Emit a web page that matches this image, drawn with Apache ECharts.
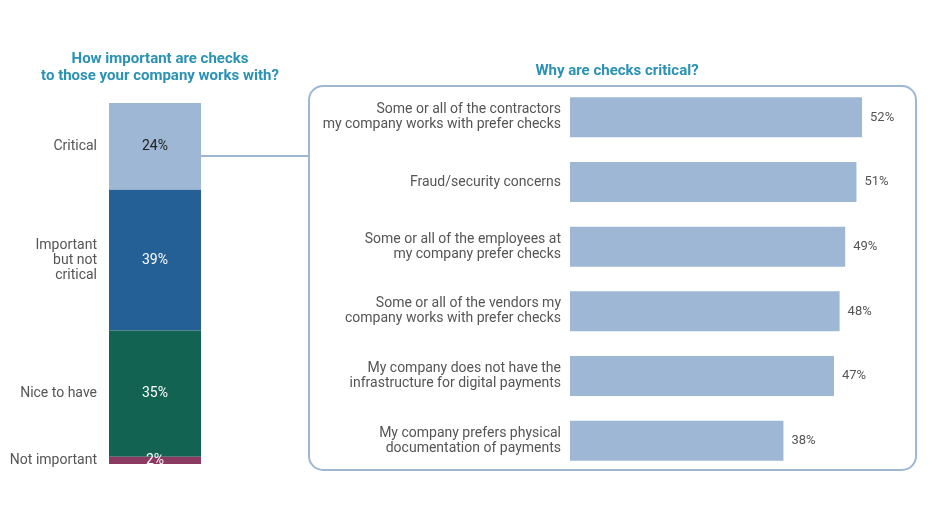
<!DOCTYPE html>
<html><head><meta charset="utf-8">
<script src="https://cdn.jsdelivr.net/npm/echarts@6/dist/echarts.min.js"></script>
<style>html,body{margin:0;padding:0;background:#fff}#c{width:939px;height:507px}</style>
</head><body><div id="c"></div>
<script>
var leftCategories = ['Critical', 'Important\nbut not\ncritical', 'Nice to have', 'Not important'];
var leftValues = [24, 39, 35, 2];
var leftColors = ['#9db7d5', '#246096', '#136352', '#8b3a62'];
var leftLabelColors = ['#222222', '#ffffff', '#ffffff', '#ffffff'];
var rightCategories = [
  'Some or all of the contractors\nmy company works with prefer checks',
  'Fraud/security concerns',
  'Some or all of the employees at\nmy company prefer checks',
  'Some or all of the vendors my\ncompany works with prefer checks',
  'My company does not have the\ninfrastructure for digital payments',
  'My company prefers physical\ndocumentation of payments'
];
var rightValues = [52, 51, 49, 48, 47, 38];

var FONT = "'Roboto', sans-serif";
var series = [];
leftCategories.forEach(function (name, i) {
  series.push({
    type: 'bar', name: name, stack: 'a', xAxisIndex: 0, yAxisIndex: 0,
    barWidth: '100%', data: [leftValues[i]],
    itemStyle: { color: leftColors[i] },
    label: { show: true, position: 'inside', formatter: '{c}%', color: leftLabelColors[i],
      fontSize: 14, fontFamily: FONT },
    silent: true
  });
  series.push({
    type: 'bar', name: name + ' label', stack: 'b', xAxisIndex: 1, yAxisIndex: 0,
    barWidth: '100%', data: [leftValues[i]],
    itemStyle: { color: 'rgba(0,0,0,0)' },
    label: { show: true, position: 'left', distance: 12, formatter: name, color: '#555',
      fontSize: 14, lineHeight: 15, fontFamily: FONT, align: 'right' },
    silent: true
  });
});
series.push({
  type: 'bar', xAxisIndex: 2, yAxisIndex: 1, data: rightValues, barWidth: 40,
  itemStyle: { color: '#9db7d5' },
  label: { show: true, position: 'right', distance: 8, formatter: '{c}%', color: '#555',
    fontSize: 13, fontFamily: FONT },
  silent: true
});

var chart = echarts.init(document.getElementById('c'));
chart.setOption({
  animation: false,
  textStyle: { fontFamily: FONT },
  title: [
    { text: 'How important are checks\nto those your company works with?', left: 155, top: 46, textAlign: 'center',
      textStyle: { color: '#2a92b3', fontSize: 15, fontWeight: 'bold', lineHeight: 17, fontFamily: FONT } },
    { text: 'Why are checks critical?', left: 612, top: 59, textAlign: 'center',
      textStyle: { color: '#2a92b3', fontSize: 15, fontWeight: 'bold', fontFamily: FONT } }
  ],
  grid: [
    { left: 109, top: 103, width: 92, height: 361 },
    { left: 570, top: 85, width: 337, height: 388 }
  ],
  xAxis: [
    { gridIndex: 0, type: 'category', data: ['a'], show: false },
    { gridIndex: 0, type: 'category', data: ['a'], show: false },
    { gridIndex: 1, type: 'value', min: 0, max: 60, show: false }
  ],
  yAxis: [
    { gridIndex: 0, type: 'value', min: 0, max: 100, inverse: true, show: false },
    { gridIndex: 1, type: 'category', data: rightCategories, inverse: true,
      axisLine: { show: false }, axisTick: { show: false }, splitLine: { show: false },
      axisLabel: { color: '#555', fontSize: 14, lineHeight: 15, margin: 9, fontFamily: FONT } }
  ],
  graphic: [
    { type: 'rect', shape: { x: 309, y: 86, width: 607, height: 384, r: 14 },
      style: { fill: 'none', stroke: '#9db7d5', lineWidth: 2 }, z: -1 },
    { type: 'line', shape: { x1: 201, y1: 156, x2: 309, y2: 156 },
      style: { stroke: '#9db7d5', lineWidth: 2 } }
  ],
  series: series
});
</script></body></html>
